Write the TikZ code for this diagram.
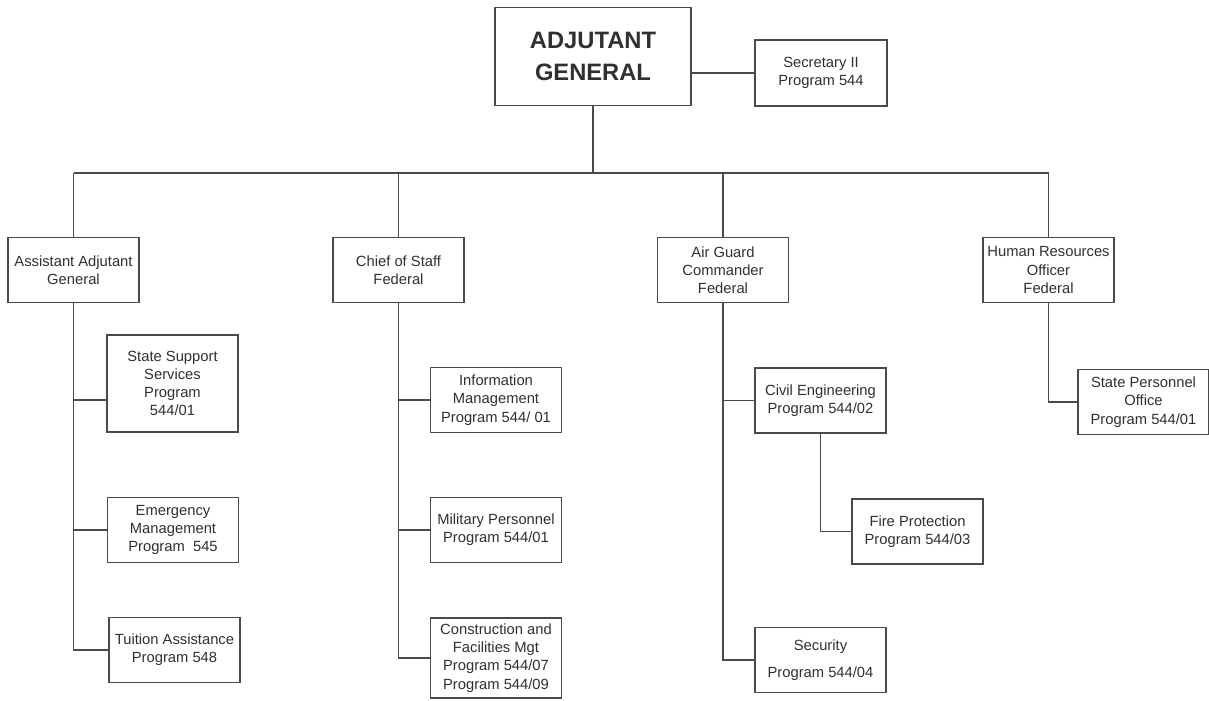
\documentclass[tikz,border=0pt]{standalone}
\usepackage{fontspec}
\setmainfont{Liberation Sans}
\definecolor{lineGray}{HTML}{4A4A4A}
\definecolor{textGray}{HTML}{303030}
\usepackage{tikz}

\tikzset{
  unit/.style={draw=lineGray, line width=0.9pt, fill=white, align=center,
    text=textGray, inner sep=1pt, minimum width=2.62cm, minimum height=1.3cm,
    font=\fontsize{8.4}{10.4}\selectfont},
  head/.style={unit, minimum width=3.92cm, minimum height=1.96cm,
    font=\fontsize{13.5}{18}\selectfont\bfseries},
  link/.style={draw=lineGray, line width=0.9pt}
}

\begin{document}
\begin{tikzpicture}[x=0.02cm, y=-0.02cm]
        \useasboundingbox (0,0) rectangle (1209,700);
        % Top
        \node[head] (ag) at (593,56.5) {ADJUTANT\\GENERAL};
        \node[unit, minimum width=2.64cm, minimum height=1.32cm] (sec) at (821,73) {Secretary II\\Program 544};
        % Second level
        \node[unit] (aag) at (73.5,270) {Assistant Adjutant\\General};
        \node[unit] (cos) at (398.5,270) {Chief of Staff\\Federal};
        \node[unit] (agc) at (723,270) {Air Guard\\Commander\\Federal};
        \node[unit] (hro) at (1048.5,270) {Human Resources\\Officer\\Federal};
        % Assistant Adjutant General
        \node[unit, minimum height=1.94cm] (ssp) at (172.5,383.5) {State Support\\Services\\Program\\544/01};
        \node[unit] (emg) at (173,530) {Emergency\\Management\\Program\ \ 545};
        \node[unit] (tui) at (174.5,650) {Tuition Assistance\\Program 548};
        % Chief of Staff
        \node[unit] (inf) at (496,400) {Information\\Management\\Program 544/ 01};
        \node[unit] (mil) at (496,530) {Military Personnel\\Program 544/01};
        \node[unit, minimum height=1.6cm] (con) at (496,658) {Construction and\\Facilities Mgt\\Program 544/07\\Program 544/09};
        % Air Guard Commander
        \node[unit] (civ) at (820.5,400.5) {Civil Engineering\\Program 544/02};
        \node[unit] (fir) at (917.5,531.5) {Fire Protection\\Program 544/03};
        \node[unit] (sty) at (820.5,660) {Security\\[5pt]Program 544/04};
        % Human Resources Officer
        \node[unit] (spo) at (1143.5,402) {State Personnel\\Office\\Program 544/01};
        % Connectors
        \coordinate (bus) at (0,173);
        \coordinate (ssp-in) at ([yshift=-0.33cm]ssp.west);
        \draw[link] (ag.east |- sec.west) -- (sec.west);
        \draw[link] (ag.south) -- (ag.south |- bus);
        \draw[link] (aag.north |- bus) -- (hro.north |- bus);
        \foreach \n in {aag,cos,agc,hro} {
          \draw[link] (\n.north) -- (\n.north |- bus);
        }
        \draw[link] (aag.south) |- (tui.west);
        \draw[link] (aag.south |- ssp-in) -- (ssp-in);
        \draw[link] (aag.south |- emg.west) -- (emg.west);
        \draw[link] (cos.south) |- (con.west);
        \foreach \n in {inf,mil} {
          \draw[link] (cos.south |- \n.west) -- (\n.west);
        }
        \draw[link] (agc.south) |- (sty.west);
        \draw[link] (agc.south |- civ.west) -- (civ.west);
        \draw[link] (civ.south) |- (fir.west);
        \draw[link] (hro.south) |- (spo.west);
      \end{tikzpicture}
\end{document}
